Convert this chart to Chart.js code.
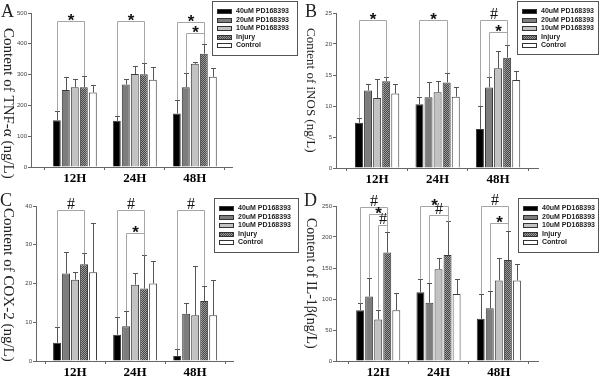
<!DOCTYPE html>
<html lang="en">
<head>
<meta charset="UTF-8">
<title>PD168393 and inflammatory factors</title>
<script src="https://cdn.jsdelivr.net/npm/chart.js"></script>
<style>
  body { margin: 0; background: #fff; }
  #wrap { position: relative; width: 600px; height: 380px; overflow: hidden; }
  canvas { position: absolute; }
</style>
</head>
<body>
<div id="wrap">
  <canvas id="chartA" width="300" height="190" style="left:0;top:0"></canvas>
  <canvas id="chartB" width="300" height="190" style="left:300px;top:0"></canvas>
  <canvas id="chartC" width="300" height="190" style="left:0;top:190px"></canvas>
  <canvas id="chartD" width="300" height="190" style="left:300px;top:190px"></canvas>
</div>
<script>
const categories = ['12H', '24H', '48H'];
const seriesNames = ['40uM PD168393', '20uM PD168393', '10uM PD168393', 'Injury', 'Control'];

// rows follow seriesNames, columns follow categories
const tnfMean = [[152, 150, 174], [250, 268, 259], [259, 302, 335], [259, 301, 368], [242, 283, 293]];
const tnfSd = [[29, 15, 43], [41, 18, 45], [28, 26, 7], [36, 36, 32], [23, 41, 28]];

const inosMean = [[7.3, 10.3, 6.3], [12.5, 11.4, 13.0], [11.3, 12.2, 16.1], [14.0, 13.8, 17.8], [12.0, 11.5, 14.2]];
const inosSd = [[0.8, 1.2, 3.7], [1.0, 2.4, 1.6], [3.0, 1.8, 2.8], [0.6, 1.5, 2.0], [1.5, 1.5, 1.5]];

const coxMean = [[4.7, 6.8, 1.3], [22.6, 9.0, 12.2], [21.0, 19.7, 11.8], [25.0, 18.7, 15.5], [22.9, 20.0, 11.8]];
const coxSd = [[4.1, 4.6, 1.7], [5.6, 3.9, 2.8], [1.9, 2.9, 12.7], [2.8, 8.6, 3.8], [12.8, 5.9, 9.1]];

const ilMean = [[82, 111, 68], [104, 94, 85], [67, 148, 130], [175, 171, 163], [82, 108, 130]];
const ilSd = [[11, 22, 40], [30, 32, 28], [16, 18, 36], [33, 54, 47], [28, 24, 27]];

// significance brackets: [category, from series, to series, bracket height, symbol]
const tnfMarks = [[0, 0, 3, 473, '*'], [1, 0, 3, 473, '*'], [2, 0, 3, 471, '*'], [2, 1, 3, 435, '*']];
const inosMarks = [[0, 0, 3, 23.8, '*'], [1, 0, 3, 23.8, '*'], [2, 0, 3, 23.8, '#'], [2, 1, 3, 22.0, '*']];
const coxMarks = [[0, 0, 3, 39, '#'], [1, 0, 3, 39, '#'], [1, 1, 3, 33.1, '*'], [2, 0, 3, 39, '#']];
const ilMarks = [[0, 0, 3, 249, '#'], [0, 1, 3, 237, '*'], [0, 2, 3, 219, '#'], [1, 0, 3, 250, '*'],
                 [1, 1, 3, 235, '#'], [2, 0, 3, 250, '#'], [2, 1, 3, 223, '*']];

function checker() {
    const c = document.createElement('canvas');
    c.width = 2; c.height = 2;
    const g = c.getContext('2d');
    g.fillStyle = '#474747'; g.fillRect(0, 0, 2, 2);
    g.fillStyle = '#9a9a9a'; g.fillRect(0, 0, 1, 1); g.fillRect(1, 1, 1, 1);
    return g.createPattern(c, 'repeat');
}
const fills = ['#000000', '#7d7d7d', '#c2c2c2', checker(), '#ffffff'];

const panels = [
    { id: 'chartA', letter: 'A', title: 'Content of TNF-α (ng/L)', mean: tnfMean, sd: tnfSd, marks: tnfMarks,
      max: 500, step: 100, xr: [0.27, 3.62], area: { left: 31, right: 232, top: 13, bottom: 167 },
      titleAt: [8, 28, 15], letterAt: [1, 17], box: [212, 1, 85, 54] },
    { id: 'chartB', letter: 'B', title: 'Content of iNOS (ng/L)', mean: inosMean, sd: inosSd, marks: inosMarks,
      max: 25, step: 5, xr: [0.32, 3.66], area: { left: 36, right: 238, top: 13, bottom: 168 },
      titleAt: [10, 28, 13], letterAt: [5, 17], box: [217, 1, 81, 53] },
    { id: 'chartC', letter: 'C', title: 'Content of COX-2 (ng/L)', mean: coxMean, sd: coxSd, marks: coxMarks,
      max: 40, step: 10, xr: [0.35, 3.63], area: { left: 36, right: 233, top: 16, bottom: 171 },
      titleAt: [8, 18, 15], letterAt: [0, 16], box: [214, 8, 84, 54] },
    { id: 'chartD', letter: 'D', title: 'Content of IL-1β(ng/L)', mean: ilMean, sd: ilSd, marks: ilMarks,
      max: 250, step: 50, xr: [0.30, 3.65], area: { left: 36, right: 238, top: 16, bottom: 171 },
      titleAt: [11, 28, 14], letterAt: [4, 16], box: [218, 8, 80, 54] }
];

function panelPlugin(p) {
    return {
        id: 'panelExtras',
        afterDatasetsDraw(chart) {
            const ctx = chart.ctx, y = chart.scales.y;
            const barX = (s, g) => Math.round(chart.getDatasetMeta(s).data[g].x) + 0.5;
            const errTop = (s, g) => y.getPixelForValue(p.mean[s][g] + p.sd[s][g]);
            ctx.save();
            ctx.lineWidth = 1;

            // error bars
            ctx.strokeStyle = '#555';
            p.mean.forEach((row, s) => {
                row.forEach((v, g) => {
                    const x = barX(s, g);
                    const y0 = y.getPixelForValue(v);
                    const y1 = Math.round(errTop(s, g)) + 0.5;
                    ctx.beginPath();
                    ctx.moveTo(x, y0); ctx.lineTo(x, y1);
                    ctx.moveTo(x - 2.5, y1); ctx.lineTo(x + 2.5, y1);
                    ctx.stroke();
                });
            });

            // significance brackets
            ctx.strokeStyle = '#a6a6a6';
            ctx.fillStyle = '#111';
            ctx.textAlign = 'center';
            p.marks.forEach(([g, a, b, top, sym]) => {
                const x1 = barX(a, g), x2 = barX(b, g);
                const yt = Math.round(y.getPixelForValue(top)) + 0.5;
                ctx.beginPath();
                ctx.moveTo(x1, errTop(a, g)); ctx.lineTo(x1, yt);
                ctx.lineTo(x2, yt); ctx.lineTo(x2, errTop(b, g));
                ctx.stroke();
                if (sym === '*') {
                    ctx.font = 'bold 17px "Liberation Sans"';
                    ctx.fillText(sym, (x1 + x2) / 2, yt + 4);
                } else {
                    ctx.font = '16px "Liberation Serif"';
                    ctx.fillText(sym, (x1 + x2) / 2, yt - 2);
                }
            });
            ctx.restore();
        },
        afterDraw(chart) {
            const ctx = chart.ctx;
            ctx.save();

            // legend
            const [bx, by, bw, bh] = p.box;
            ctx.fillStyle = '#fff';
            ctx.fillRect(bx, by, bw, bh);
            ctx.strokeStyle = '#555';
            ctx.lineWidth = 1;
            ctx.strokeRect(bx + 0.5, by + 0.5, bw, bh);
            ctx.font = 'bold 7px "Liberation Sans"';
            ctx.textBaseline = 'middle';
            ctx.textAlign = 'left';
            seriesNames.forEach((name, s) => {
                const ry = Math.round(by + 10 + s * 8.6);
                ctx.fillStyle = fills[s];
                ctx.fillRect(bx + 5, ry - 2, 15, 5);
                ctx.strokeStyle = '#333';
                ctx.strokeRect(bx + 5.5, ry - 1.5, 14, 4);
                ctx.fillStyle = '#222';
                ctx.fillText(name, bx + 24, ry + 0.5);
            });

            // y axis title, reading downwards
            const [tx, ty, ts] = p.titleAt;
            ctx.translate(tx, ty);
            ctx.rotate(Math.PI / 2);
            ctx.font = ts + 'px "Liberation Serif"';
            ctx.fillStyle = '#222';
            ctx.textBaseline = 'middle';
            ctx.fillText(p.title, 0, 0);
            ctx.setTransform(1, 0, 0, 1, 0, 0);

            // panel letter
            ctx.font = '18px "Liberation Serif"';
            ctx.textBaseline = 'alphabetic';
            ctx.fillText(p.letter, p.letterAt[0], p.letterAt[1]);
            ctx.restore();
        }
    };
}

panels.forEach(p => {
    new Chart(document.getElementById(p.id), {
        type: 'bar',
        data: {
            datasets: seriesNames.map((name, s) => ({
                label: name,
                data: p.mean[s].map((v, g) => ({ x: g + 1, y: v })),
                backgroundColor: fills[s],
                borderColor: '#3a3a3a',
                borderWidth: 1,
                categoryPercentage: 0.75,
                barPercentage: 0.88
            }))
        },
        options: {
            responsive: false,
            animation: false,
            layout: { padding: { top: p.area.top, right: 300 - p.area.right, left: 0, bottom: 0 } },
            plugins: { legend: { display: false }, tooltip: { enabled: false } },
            scales: {
                x: {
                    type: 'linear',
                    min: p.xr[0],
                    max: p.xr[1],
                    offset: false,
                    afterBuildTicks: s => { s.ticks = categories.map((c, i) => ({ value: i + 1 })); },
                    afterFit: s => { s.height = 190 - p.area.bottom; },
                    ticks: {
                        callback: v => categories[v - 1],
                        autoSkip: false,
                        maxRotation: 0,
                        padding: 1,
                        color: '#000',
                        font: { family: 'Liberation Serif', size: 13, weight: 'bold' }
                    },
                    grid: { drawOnChartArea: false, tickLength: 3, color: '#666' },
                    border: { color: '#666' }
                },
                y: {
                    min: 0,
                    max: p.max,
                    afterFit: s => { s.width = p.area.left; },
                    ticks: { stepSize: p.step, padding: 1, color: '#444', font: { family: 'Liberation Sans', size: 6 } },
                    grid: { drawOnChartArea: false, tickLength: 3, color: '#666' },
                    border: { color: '#666' }
                }
            }
        },
        plugins: [panelPlugin(p)]
    });
});
</script>
</body>
</html>
